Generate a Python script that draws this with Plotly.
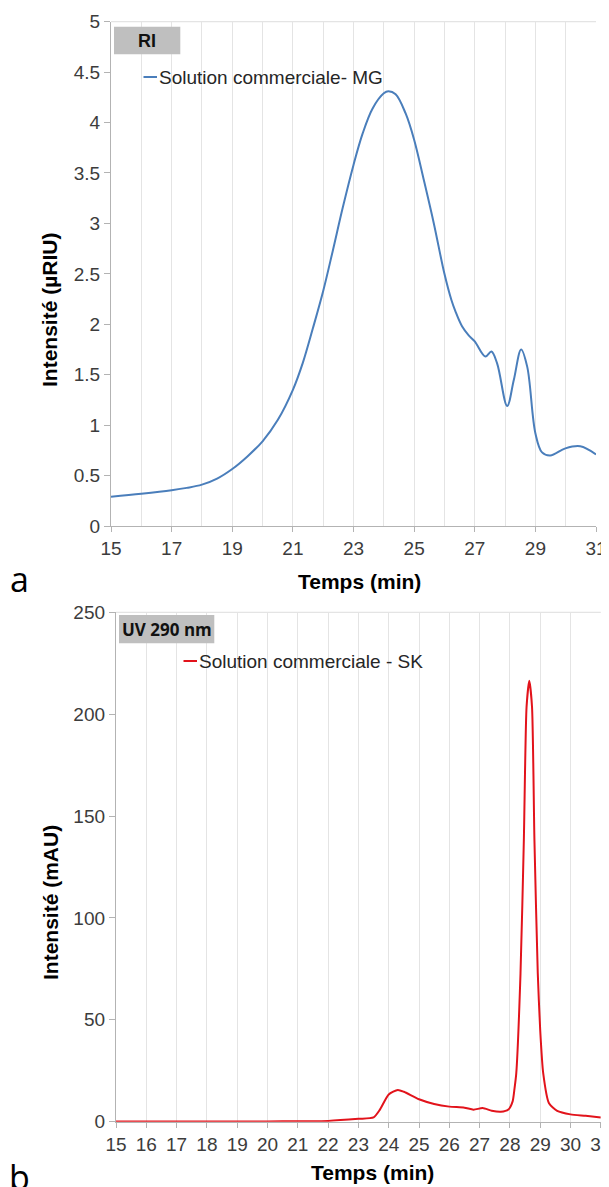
import plotly.graph_objects as go

# the page body adds an 8 px margin, so the figure is drawn 8 px smaller and shifted
OFF = 8
W, H = 609 - OFF, 1187 - OFF

# ---- data: chart a (RI) ----
time_ri = [15, 16, 17, 17.5, 18, 18.5, 19, 19.5, 20, 20.5, 21, 21.33, 21.66, 22, 22.31, 22.64,
           23, 23.3, 23.63, 24, 24.15, 24.39, 24.72, 25, 25.32, 25.65, 26, 26.23, 26.36,
           26.58, 26.8, 27.0, 27.35, 27.55, 27.74, 28.07, 28.29, 28.53, 28.73, 29.0,
           29.22, 29.49, 29.99, 30.48, 31]
int_ri = [0.29, 0.32, 0.355, 0.378, 0.41, 0.47, 0.565, 0.69, 0.84, 1.05, 1.35, 1.62, 1.96, 2.33,
          2.72, 3.15, 3.58, 3.89, 4.14, 4.29, 4.31, 4.28, 4.09, 3.83, 3.43, 3.0, 2.50, 2.24,
          2.13, 1.98, 1.89, 1.83, 1.68, 1.73, 1.61, 1.19, 1.45, 1.75, 1.58, 0.92,
          0.73, 0.70, 0.77, 0.79, 0.71]
ticks_ri_x = [15, 17, 19, 21, 23, 25, 27, 29, 31]
ticks_ri_y = [0, 0.5, 1, 1.5, 2, 2.5, 3, 3.5, 4, 4.5, 5]

# ---- data: chart b (UV 290 nm) ----
time_uv = [15, 16, 17, 18, 19, 20, 21, 22, 23, 23.5, 23.7, 24.0, 24.3, 24.5, 25, 25.5, 26,
           26.5, 26.8, 27.1, 27.4, 27.7, 27.95, 28.09, 28.15, 28.21, 28.35, 28.46, 28.55,
           28.64, 28.73, 28.81, 28.92, 29.0, 29.1, 29.29, 29.56, 30, 30.5, 31]
int_uv = [0.1, 0.1, 0.1, 0.1, 0.1, 0.15, 0.2, 0.4, 1.4, 2.1, 5.7, 13.4, 15.6, 14.7, 11.0, 8.7, 7.4,
          6.9, 5.9, 6.7, 5.4, 4.9, 6.0, 10, 16, 23.7, 72.8, 138, 203.6,
          216.4, 203.6, 138, 72.8, 45, 23.7, 9, 5.3, 3.6, 2.9, 2.1]
ticks_uv_x = list(range(15, 32))
ticks_uv_y = [0, 50, 100, 150, 200, 250]

label_ri = "Solution commerciale- MG"
label_uv = "Solution commerciale - SK"

BLUE = "#4A7EBB"
RED = "#E2131B"
AXIS = "#B3B3B3"
GRID = "#E4E4E4"
TICKFONT = dict(family="Liberation Sans, Arial", size=19, color="#3C3C3C")
TITLEFONT = dict(family="Liberation Sans, Arial", size=21, color="#000000")


def px(x):
    return (x - OFF) / W


def py(y):
    return 1 - (y - OFF) / H


fig = go.Figure()
fig.add_trace(go.Scatter(x=time_ri, y=int_ri, mode="lines", name=label_ri,
                         line=dict(color=BLUE, width=2, shape="spline", smoothing=1.0),
                         xaxis="x", yaxis="y", showlegend=False))
fig.add_trace(go.Scatter(x=time_uv, y=int_uv, mode="lines", name=label_uv,
                         line=dict(color=RED, width=2, shape="spline", smoothing=0.6),
                         xaxis="x2", yaxis="y2", showlegend=False))

# plot areas (pixels in the reference picture)
A = dict(l=111, r=596, t=21.7, b=526)
B = dict(l=116, r=600.8, t=612.3, b=1121.7)

common_x = dict(showline=True, linecolor=AXIS, linewidth=1.3, ticks="outside", ticklen=5,
                tickcolor=AXIS, tickfont=TICKFONT, showgrid=True, gridcolor=GRID,
                gridwidth=1, zeroline=False, fixedrange=True, automargin=False,
                ticklabeloverflow="allow")
common_y = dict(showline=True, linecolor=AXIS, linewidth=1.3, ticks="outside", ticklen=6,
                tickcolor=AXIS, tickfont=TICKFONT, showgrid=False, zeroline=False,
                fixedrange=True, automargin=False)

fig.update_layout(
    template="none",
    width=W, height=H, margin=dict(l=0, r=0, t=0, b=0, pad=0, autoexpand=False),
    paper_bgcolor="white", plot_bgcolor="white", showlegend=False,
    xaxis=dict(common_x, domain=[px(A["l"]), px(A["r"])], anchor="y", range=[15, 31],
               tickmode="array", tickvals=ticks_ri_x,
               minor=dict(dtick=1, tick0=15, showgrid=True, gridcolor=GRID, gridwidth=1)),
    yaxis=dict(common_y, domain=[py(A["b"]), py(A["t"])], anchor="x", range=[0, 5],
               tickmode="array", tickvals=ticks_ri_y,
               ticktext=[f"{v:g}" for v in ticks_ri_y]),
    xaxis2=dict(common_x, domain=[px(B["l"]), min(1, px(B["r"]))], anchor="y2", range=[15, 31],
                tickmode="array", tickvals=ticks_uv_x),
    yaxis2=dict(common_y, domain=[py(B["b"]), py(B["t"])], anchor="x2", range=[0, 250],
                tickmode="array", tickvals=ticks_uv_y),
)

shapes = []
# top borders of the plot areas
for xr, yr in (("x domain", "y domain"), ("x2 domain", "y2 domain")):
    shapes.append(dict(type="line", xref=xr, yref=yr, x0=0, x1=1, y0=1, y1=1,
                       line=dict(color=GRID, width=1.3), layer="below"))
# grey label boxes
shapes.append(dict(type="rect", xref="paper", yref="paper", x0=px(114), x1=px(180.3),
                   y0=py(54.3), y1=py(26.7), fillcolor="#BFBFBF", line=dict(width=0)))
shapes.append(dict(type="rect", xref="paper", yref="paper", x0=px(119), x1=px(214.3),
                   y0=py(643.3), y1=py(615), fillcolor="#BFBFBF", line=dict(width=0)))
# legend sample lines
shapes.append(dict(type="line", xref="paper", yref="paper", x0=px(143.5), x1=px(157),
                   y0=py(77), y1=py(77), line=dict(color=BLUE, width=2)))
shapes.append(dict(type="line", xref="paper", yref="paper", x0=px(183.5), x1=px(197),
                   y0=py(661), y1=py(661), line=dict(color=RED, width=2)))
fig.update_layout(shapes=shapes)

ann = []


def text(t, x, y, font, xanchor="center", yanchor="middle", angle=0):
    ann.append(dict(text=t, x=px(x), y=py(y), xref="paper", yref="paper", showarrow=False,
                    xanchor=xanchor, yanchor=yanchor, textangle=angle, font=font))


text("<b>RI</b>", 147.2, 40.5, dict(family="Liberation Sans, Arial", size=18, color="#111"))
text("<b>UV 290 nm</b>", 166.7, 629.5, dict(family="Open Sans", size=17, color="#111"))
text(label_ri, 157, 77, dict(family="Liberation Sans, Arial", size=19, color="#262626"),
     xanchor="left")
text(label_uv, 197, 661, dict(family="Liberation Sans, Arial", size=19, color="#262626"),
     xanchor="left")
text("<b>Intensité (µRIU)</b>", 50, 310, TITLEFONT, angle=-90)
text("<b>Intensité (mAU)</b>", 50, 902, TITLEFONT, angle=-90)
text("<b>Temps (min)</b>", 359, 581, TITLEFONT)
text("<b>Temps (min)</b>", 372, 1172, TITLEFONT)
text("a", 19, 579, dict(family="Open Sans", size=34, color="#000"))
text("b", 19, 1177, dict(family="Open Sans", size=34, color="#000"))
fig.update_layout(annotations=ann)

fig.write_html("out.html")
